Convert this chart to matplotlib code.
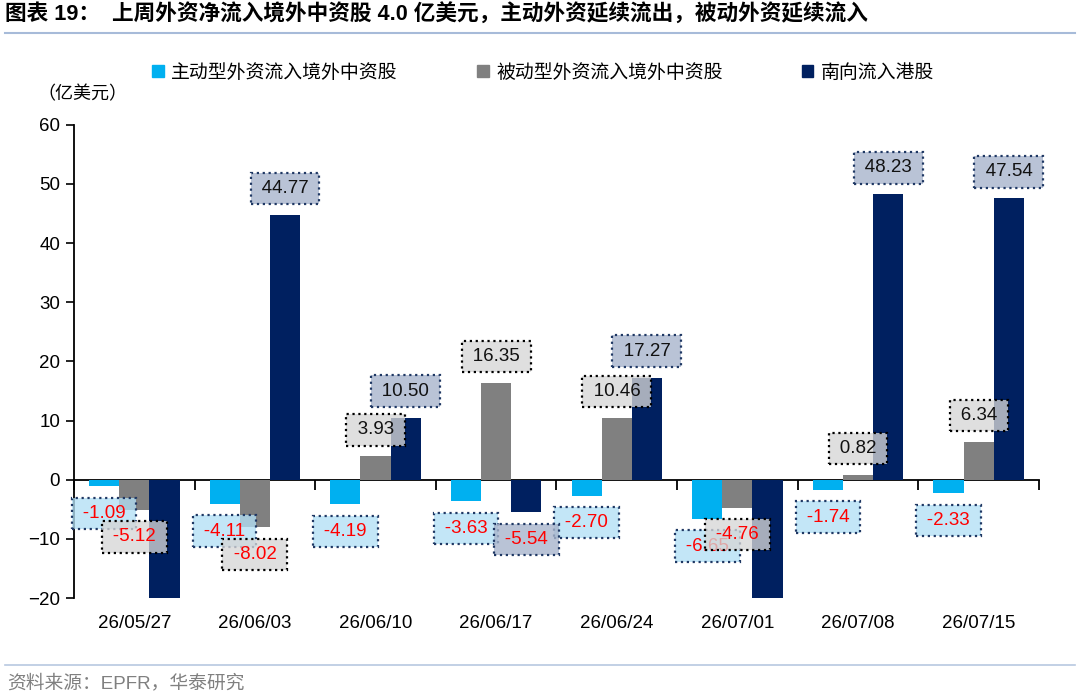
#!/usr/bin/env python3
"""Weekly foreign fund flows into offshore Chinese equities vs southbound flows."""

import matplotlib

matplotlib.use("Agg")
import matplotlib.pyplot as plt
from matplotlib.patches import Patch
import numpy as np

dates = ["26/05/27", "26/06/03", "26/06/10", "26/06/17",
         "26/06/24", "26/07/01", "26/07/08", "26/07/15"]
active = [-1.09, -4.11, -4.19, -3.63, -2.70, -6.65, -1.74, -2.33]
passive = [-5.12, -8.02, 3.93, 16.35, 10.46, -4.76, 0.82, 6.34]
southbound = [-20.0, 44.77, 10.50, -5.54, 17.27, -20.0, 48.23, 47.54]

series_names = ["主动型外资流入境外中资股", "被动型外资流入境外中资股", "南向流入港股"]
bar_colors = ["#00b0f0", "#808080", "#002060"]
box_faces = [(0.70, 0.88, 0.96, 0.78), (0.84, 0.84, 0.84, 0.78), (0.66, 0.71, 0.80, 0.80)]
box_edges = ["#1f3864", "#000000", "#1f3864"]

title = "图表 19：  上周外资净流入境外中资股 4.0 亿美元，主动外资延续流出，被动外资延续流入"
unit = "（亿美元）"
source = "资料来源：EPFR，华泰研究"

NUM_FONT = ["Liberation Sans", "DejaVu Sans"]
CJK_FONT = ["Liberation Sans", "Noto Sans CJK SC", "DejaVu Sans"]
plt.rcParams["font.family"] = CJK_FONT

YMIN, YMAX = -20, 60


def main() -> None:
    fig = plt.figure(figsize=(10.8, 6.97), dpi=100)
    ax = fig.add_axes([0.0685, 0.142, 0.8935, 0.679])

    x = np.arange(len(dates))
    width = 0.25
    all_series = [active, passive, southbound]
    for k, values in enumerate(all_series):
        ax.bar(x + (k - 1) * width, values, width, color=bar_colors[k],
               label=series_names[k], zorder=2)

    # value labels in dotted boxes, skipped where the bar is clipped by the axis
    for k, values in enumerate(all_series):
        for i, v in enumerate(values):
            if v <= YMIN:
                continue
            off = 26.5 if v >= 0 else -27
            ax.annotate(
                f"\u2009{v:.2f}\u2009", xy=(x[i] + (k - 1) * width, v),
                xytext=(0, off), textcoords="offset pixels",
                ha="center", va="center", fontsize=13.5, family=NUM_FONT,
                color="#ff0000" if v < 0 else "#111111", zorder=5,
                bbox=dict(boxstyle="square,pad=0.38", fc=box_faces[k],
                          ec=box_edges[k], ls=":", lw=1.6),
            )

    ax.set_xlim(-0.5, len(dates) - 0.5)
    ax.set_ylim(YMIN, YMAX)
    ax.set_yticks(np.arange(YMIN, YMAX + 1, 10))
    ax.tick_params(axis="y", direction="out", length=6, width=1.2,
                   labelsize=13.5, pad=4)
    for lab in ax.get_yticklabels():
        lab.set_family(NUM_FONT)
    ax.set_xticks(x)
    ax.set_xticklabels(dates, fontsize=13.5, family=NUM_FONT)
    ax.tick_params(axis="x", length=0, pad=12)

    for side in ["top", "right", "bottom"]:
        ax.spines[side].set_visible(False)
    ax.spines["left"].set_linewidth(1.3)

    # zero line with category boundary ticks
    zero_axis = ax.secondary_xaxis((0 - YMIN) / (YMAX - YMIN))
    zero_axis.set_xticks(np.arange(-0.5, len(dates), 1.0))
    zero_axis.set_xticklabels([])
    zero_axis.tick_params(direction="out", length=7, width=1.3)
    zero_axis.spines["bottom"].set_linewidth(1.3)

    handles = [Patch(color=c) for c in bar_colors]
    fig.legend(handles, series_names, loc="center", ncol=3,
               bbox_to_anchor=(0.503, 0.895), frameon=False, fontsize=13.6,
               handlelength=0.6, handleheight=0.6, handletextpad=0.4,
               columnspacing=4.2)

    fig.text(0.035, 1 - 95 / 697, unit, fontsize=13, ha="left", va="center")
    fig.text(0.005, 1 - 15 / 697, title, fontsize=15.6, weight="bold",
             ha="left", va="center")
    fig.add_artist(plt.Line2D([0.005, 0.995], [1 - 33 / 697] * 2,
                              color="#a7bbd9", lw=1.5))
    fig.add_artist(plt.Line2D([0.005, 0.995], [1 - 665 / 697] * 2,
                              color="#b8c8e0", lw=1.2))
    fig.text(0.007, 1 - 683 / 697, source, fontsize=13.5, color="#808080",
             ha="left", va="center")

    fig.savefig("out.png", dpi=100)
    plt.close(fig)


if __name__ == "__main__":
    main()
